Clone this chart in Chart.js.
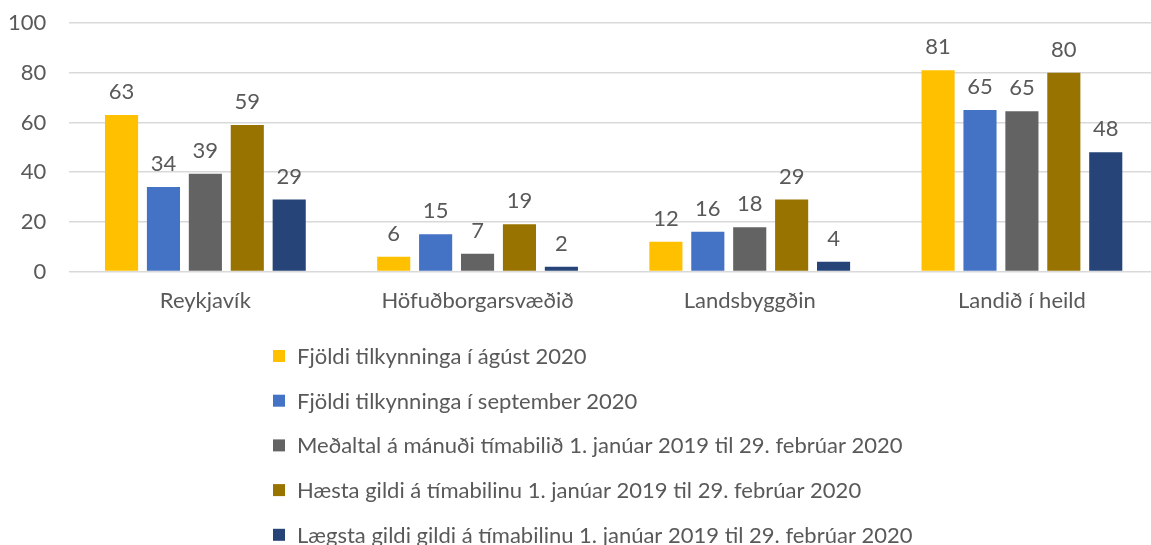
<!DOCTYPE html>
<html>
<head>
<meta charset="utf-8">
<script src="https://cdn.jsdelivr.net/npm/chart.js@4/dist/chart.umd.min.js"></script>
<style>
  html, body { margin: 0; padding: 0; background: #fff; overflow: hidden; }
  #wrap { width: 1160px; height: 545px; }
</style>
</head>
<body>
<div id="wrap"><canvas id="myChart" width="1160" height="545"></canvas></div>
<script>
// Regions along the x axis
const regions = ["Reykjavík", "Höfuðborgarsvæðið", "Landsbyggðin", "Landið í heild"];

// One array per series
const august2020 = [63, 6, 12, 81];
const september2020 = [34, 15, 16, 65];
const monthlyAverage = [39.4, 7.2, 17.8, 64.5];
const highestValue = [59, 19, 29, 80];
const lowestValue = [29, 2, 4, 48];

const seriesNames = [
  "Fjöldi tilkynninga í ágúst 2020",
  "Fjöldi tilkynninga í september 2020",
  "Meðaltal á mánuði tímabilið 1. janúar 2019 til 29. febrúar 2020",
  "Hæsta gildi á tímabilinu 1. janúar 2019 til 29. febrúar 2020",
  "Lægsta gildi gildi á tímabilinu 1. janúar 2019 til 29. febrúar 2020"
];
const seriesColors = ["#FFC000", "#4472C4", "#636363", "#997300", "#264478"];

const yTicks = [0, 20, 40, 60, 80, 100];

const FONT = "Lato, 'Open Sans', sans-serif";
const TEXT_COLOR = "#595959";

// Value labels above every bar
const valueLabels = {
  id: "valueLabels",
  afterDatasetsDraw(chart) {
    const ctx = chart.ctx;
    ctx.save();
    ctx.font = "22px " + FONT;
    ctx.fillStyle = TEXT_COLOR;
    ctx.textAlign = "center";
    ctx.textBaseline = "bottom";
    chart.data.datasets.forEach((ds, i) => {
      chart.getDatasetMeta(i).data.forEach((bar, j) => {
        ctx.fillText(Math.round(ds.data[j]), bar.x, bar.y - 12);
      });
    });
    ctx.restore();
  }
};

// Vertical legend below the plot, left aligned like the original
const stackedLegend = {
  id: "stackedLegend",
  afterDraw(chart) {
    const ctx = chart.ctx;
    const left = 273, top = 356, step = 44.7;
    ctx.save();
    ctx.font = "22px " + FONT;
    ctx.textBaseline = "middle";
    ctx.textAlign = "left";
    chart.data.datasets.forEach((ds, i) => {
      const y = top + i * step;
      ctx.fillStyle = ds.backgroundColor;
      ctx.fillRect(left, y - 6, 12, 12);
      ctx.fillStyle = TEXT_COLOR;
      ctx.fillText(ds.label, left + 24, y + 1);
    });
    ctx.restore();
  }
};

const allSeries = [august2020, september2020, monthlyAverage, highestValue, lowestValue];

new Chart("myChart", {
  type: "bar",
  data: {
    labels: regions,
    datasets: allSeries.map((values, i) => ({
      label: seriesNames[i],
      data: values,
      backgroundColor: seriesColors[i],
      categoryPercentage: 0.77,
      barPercentage: 0.79
    }))
  },
  options: {
    responsive: false,
    animation: false,
    layout: { padding: { left: -15, right: 2, top: 23, bottom: 223 } },
    plugins: {
      legend: { display: false },
      tooltip: { enabled: false }
    },
    scales: {
      x: {
        grid: { display: false },
        border: { display: false },
        ticks: { color: TEXT_COLOR, font: { family: FONT, size: 22 }, padding: 8 }
      },
      y: {
        min: 0,
        max: 100,
        afterBuildTicks: axis => { axis.ticks = yTicks.map(v => ({ value: v })); },
        afterFit: axis => { axis.paddingTop = 0; },
        grid: { color: "#d9d9d9", lineWidth: 1.5, drawTicks: false },
        border: { display: false },
        ticks: { color: TEXT_COLOR, font: { family: FONT, size: 22 }, padding: 23 }
      }
    }
  },
  plugins: [valueLabels, stackedLegend]
});
</script>
</body>
</html>
